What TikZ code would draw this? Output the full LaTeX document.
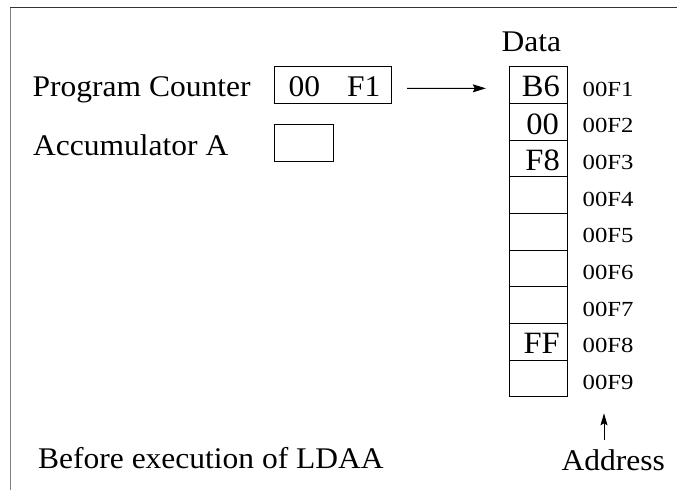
\documentclass[tikz,border=0pt]{standalone}
\usepackage{fontspec}
\setmainfont{Liberation Serif}
\newfontfamily\labelfont[FakeStretch=1.05]{Liberation Serif}
\newfontfamily\addrfont[FakeStretch=1.15]{Liberation Serif}
\usetikzlibrary{arrows.meta}
\tikzset{
  lbl/.style={inner sep=0pt, font=\labelfont\fontsize{30pt}{36pt}\selectfont},
  addr/.style={inner sep=0pt, anchor=base west, font=\addrfont\fontsize{21.5pt}{24pt}\selectfont},
  val/.style={inner sep=0pt, anchor=base east, font=\labelfont\fontsize{31pt}{36pt}\selectfont},
  reg/.style={draw, line width=1pt, inner sep=0pt},
  cell/.style={draw, line width=1pt, inner sep=0pt, minimum width=58.4pt, minimum height=36.67pt},
  arr/.style={line width=1pt, -{Stealth[length=13pt, width=8pt, inset=2pt]}},
}
\begin{document}
\begin{tikzpicture}[x=1pt, y=-1pt]
\useasboundingbox (0,0) rectangle (677,490);
\fill[white] (0,0) rectangle (677,490);

% frame edges
\draw[line width=1.3pt, black!80] (10,7.5) -- (677,7.5);
\draw[line width=1pt, black!50] (10,7.5) -- (10,490);

% registers
\node[lbl, anchor=base west] (pclabel) at (32.5,96.7) {Program Counter};
\node[lbl, anchor=base west] (acclabel) at (33,155) {Accumulator A};
\node[reg, minimum width=117pt, minimum height=37.3pt] (pc) at (332.5,84.7) {};
\node[lbl, anchor=base west] (pchi) at (288.5,96) {00};
\node[lbl, anchor=base west] (pclo) at (347,96) {F1};
\node[reg, minimum width=59.3pt, minimum height=36.7pt] (acc) at (303.7,143.3) {};

% memory column
\node[lbl, anchor=base west] (datalabel) at (501.5,51.7) {Data};
\foreach \i/\a in {1/00F1,2/00F2,3/00F3,4/00F4,5/00F5,6/00F6,7/00F7,8/00F8,9/00F9} {
  \node[cell] (c\i) at (538.5,{66.7+36.67*(\i-0.5)}) {};
  \node[addr] (a\i) at (582.5,{96+36.67*(\i-1)}) {\a};
}
\node[val] (v1) at (560,96.5) {B6};
\node[val] (v2) at (559,134) {00};
\node[val] (v3) at (560,170.5) {F8};
\node[val] (v8) at (560,353.5) {FF};

% pointer from the program counter to the addressed cell
\draw[arr] ([xshift=15.7pt, yshift=-3.6pt]pc.east) -- ([xshift=-23pt, yshift=-3.3pt]c1.west);

% address legend
\node[lbl, anchor=base west] (addrlabel) at (561.5,470) {Address};
\coordinate (addrtail) at (604,440);
\coordinate (addrtip) at (604,413.3);
\draw[arr, -{Stealth[length=12pt, width=7pt, inset=2pt]}] (addrtail) -- (addrtip);

% caption
\node[lbl, anchor=base west] (caption) at (38,468.3) {Before execution of LDAA};
\end{tikzpicture}
\end{document}
